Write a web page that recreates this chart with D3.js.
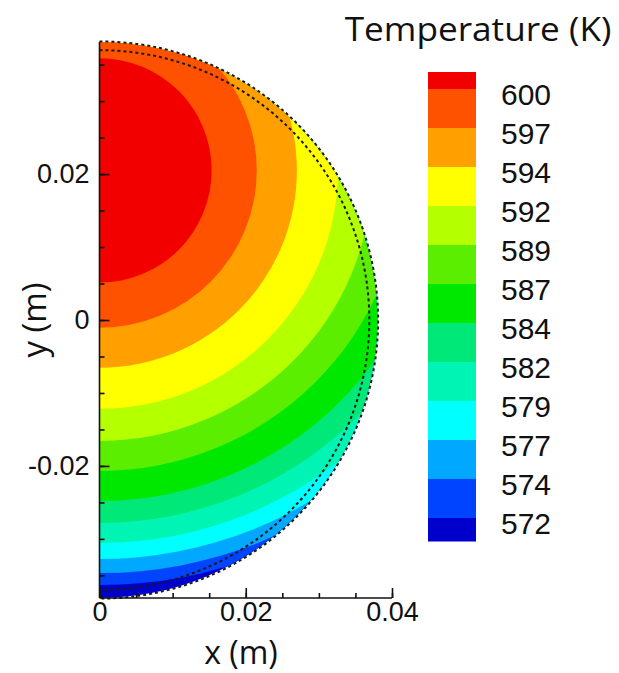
<!DOCTYPE html>
<html>
<head>
<meta charset="utf-8">
<script src="https://cdn.jsdelivr.net/npm/d3@7"></script>
<style>
  html, body { margin: 0; padding: 0; background: #fff; }
  svg { display: block; }
  .tick text { font-family: "Liberation Sans", Arial, sans-serif; }
</style>
</head>
<body>
<svg id="chart" width="619" height="673"></svg>
<script>
// Contour levels of the legend (K), highest first, and their printed labels
const levelValues = [600, 597.45, 594.91, 592.36, 589.82, 587.27, 584.73, 582.18, 579.64, 577.09, 574.55, 572];
const levelLabels = ["600", "597", "594", "592", "589", "587", "584", "582", "579", "577", "574", "572"];

// Flood colours: band above the first level, between each pair, below the last
const bandColors = ["#f20000", "#ff5200", "#ffa000", "#ffff00", "#b4ff00", "#5cee00",
                    "#00e800", "#00e878", "#00f5b4", "#00ffff", "#00a8ff", "#0044ff", "#0000cc"];

// Hot-spot centre on the symmetry axis (m)
const hotSpot = { x: 0, y: 0.0205 };
// Distance (m) from the hot spot to each level's isotherm: downward and sideways
const isoRadiusDown = [0.01534, 0.02151, 0.02699, 0.03260, 0.03699, 0.04110,
                       0.04521, 0.04822, 0.05096, 0.05315, 0.05507, 0.05671];
const isoRadiusSide = [0.01534, 0.02151, 0.02699, 0.03260, 0.03730, 0.04160,
                       0.04600, 0.04930, 0.05230, 0.05480, 0.05700, 0.05880];

// Pellet half-section and the two dashed outlines (m)
const pelletRadius = 0.038;
const dashedOutlines = [
  { cy: 0, r: 0.0369 },
  { cy: 0, r: 0.0381 }
];

// Axis ticks (m)
const xMajorTicks = [0, 0.02, 0.04];
const yMajorTicks = [-0.02, 0, 0.02];
const minorStep = 0.005;

const svg = d3.select("#chart");

const x = d3.scaleLinear().domain([0, 0.04]).range([99.5, 392]);
const y = d3.scaleLinear().domain([-0.0381, 0.0381]).range([598, 42]);
const pxPerM = x(1) - x(0);
const tickFmt = d => d === 0 ? "0" : d.toFixed(2);

// half-circle (right side) path centred on the symmetry axis
function halfCircle(cy, r) {
  const p = d3.path();
  const rr = r * pxPerM;
  p.moveTo(x(0), y(cy) - rr);
  p.arc(x(0), y(cy), rr, -Math.PI / 2, Math.PI / 2);
  return p.toString();
}

// ---- contour field ----
const defs = svg.append("defs");
defs.append("clipPath").attr("id", "pellet")
  .append("path")
  .attr("d", halfCircle(0, pelletRadius) + "Z");

const field = svg.append("g").attr("clip-path", "url(#pellet)");

// coldest band fills the whole section, warmer isotherms stacked on top
field.append("rect")
  .attr("x", x(0)).attr("y", y(0.04))
  .attr("width", x(0.04) - x(0)).attr("height", y(-0.04) - y(0.04))
  .attr("fill", bandColors[bandColors.length - 1]);

const isoIdx = d3.range(levelValues.length).reverse();
field.selectAll("ellipse.iso")
  .data(isoIdx)
  .join("ellipse")
  .attr("class", "iso")
  .attr("cx", x(hotSpot.x))
  .attr("cy", y(hotSpot.y))
  .attr("rx", i => isoRadiusSide[i] * pxPerM)
  .attr("ry", i => isoRadiusDown[i] * pxPerM)
  .attr("fill", i => bandColors[i]);

// dashed outlines
svg.append("g").selectAll("path.outline")
  .data(dashedOutlines)
  .join("path")
  .attr("class", "outline")
  .attr("d", d => halfCircle(d.cy, d.r))
  .attr("fill", "none")
  .attr("stroke", "#1a1a1a")
  .attr("stroke-width", 2)
  .attr("stroke-dasharray", "3,3");

// ---- axes ----
const xMinor = d3.range(0, 0.04 + 1e-9, minorStep);
const yMinor = d3.range(-0.035, 0.035 + 1e-9, minorStep);

const xAxis = svg.append("g")
  .attr("transform", `translate(0,${y(-0.0381)})`)
  .call(d3.axisBottom(x).tickValues(xMinor).tickSize(-5).tickFormat(""));
xAxis.select(".domain").remove();
svg.append("g")
  .attr("transform", `translate(0,${y(-0.0381)})`)
  .call(d3.axisBottom(x).tickValues(xMajorTicks).tickSize(-10).tickPadding(4)
    .tickFormat(tickFmt))
  .call(g => g.select(".domain").attr("d", `M${x(0)},0H${x(0.04)}`))
  .call(g => g.selectAll(".tick text").attr("font-size", 27).attr("fill", "#111"));

const yAxisMinor = svg.append("g")
  .attr("transform", `translate(${x(0)},0)`)
  .call(d3.axisLeft(y).tickValues(yMinor).tickSize(-5).tickFormat(""));
yAxisMinor.select(".domain").remove();
svg.append("g")
  .attr("transform", `translate(${x(0)},0)`)
  .call(d3.axisLeft(y).tickValues(yMajorTicks).tickSize(-10).tickPadding(10)
    .tickFormat(tickFmt))
  .call(g => g.select(".domain").attr("d", `M0,${y(0.0381)}V${y(-0.0381)}`))
  .call(g => g.selectAll(".tick text").attr("font-size", 27).attr("fill", "#111"));

svg.selectAll(".domain, .tick line").attr("stroke", "#111").attr("stroke-width", 1.6);

// axis titles
svg.append("text")
  .attr("x", 241).attr("y", 664)
  .attr("text-anchor", "middle")
  .attr("font-family", "Open Sans, sans-serif")
  .attr("font-size", 32)
  .attr("fill", "#111")
  .text("x (m)");
svg.append("text")
  .attr("transform", `translate(46,${y(0)}) rotate(-90)`)
  .attr("text-anchor", "middle")
  .attr("font-family", "Open Sans, sans-serif")
  .attr("font-size", 33)
  .attr("fill", "#111")
  .text("y (m)");

// ---- legend ----
const legendTop = 72, legendBottom = 541, legendX = 428, legendW = 48;
const ly = d3.scaleLinear().domain([600, 572]).range([89, 518]);
const bandEdges = [legendTop, ...levelValues.map(v => ly(v)), legendBottom];

const legend = svg.append("g");
legend.selectAll("rect")
  .data(bandColors)
  .join("rect")
  .attr("x", legendX)
  .attr("y", (d, i) => bandEdges[i])
  .attr("width", legendW)
  .attr("height", (d, i) => bandEdges[i + 1] - bandEdges[i] + 0.5)
  .attr("fill", d => d);

legend.selectAll("text.lbl")
  .data(levelValues)
  .join("text")
  .attr("class", "lbl")
  .attr("x", 501)
  .attr("y", d => ly(d) + 5)
  .attr("dy", "0.36em")
  .attr("font-family", "Liberation Sans, Arial, sans-serif")
  .attr("font-size", 30)
  .attr("fill", "#111")
  .text((d, i) => levelLabels[i]);

svg.append("text")
  .attr("transform", "translate(478,41) scale(1.1,1)")
  .attr("text-anchor", "middle")
  .attr("font-family", "Open Sans, sans-serif")
  .attr("font-size", 32)
  .attr("fill", "#111")
  .text("Temperature (K)");
</script>
</body>
</html>
